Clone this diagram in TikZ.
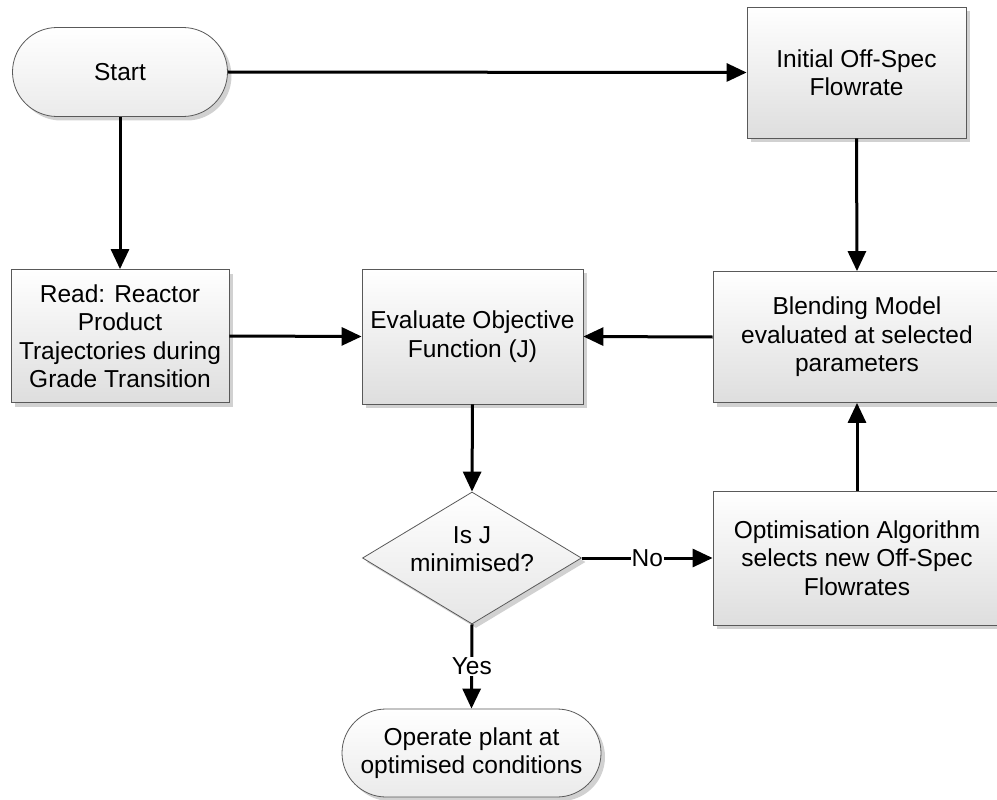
\documentclass[tikz,border=0pt]{standalone}
\usepackage{fontspec}
\setmainfont{Liberation Sans}
\usetikzlibrary{shapes.misc,shapes.geometric,arrows.meta,shadows}
\begin{document}
\begin{tikzpicture}[x=1pt,y=-1pt,
  font=\fontsize{24.5}{28.5}\selectfont,
  base/.style={draw=black!65, line width=0.8pt, top color=white, bottom color=black!13,
    align=center, inner sep=2pt,
    drop shadow={shadow xshift=4pt, shadow yshift=-4pt, fill=black!18, opacity=1}},
  procbox/.style={base, rectangle},
  term/.style={base, rounded rectangle, bottom color=black!8},
  decision/.style={base, diamond, inner sep=0pt, bottom color=black!10},
  conn/.style={line width=3pt, -{Triangle[length=20pt,width=18pt]}},
  lab/.style={fill=white, inner sep=1pt},
]
\useasboundingbox (0,0) rectangle (997,800);

\node[term, minimum width=219pt, minimum height=89pt] (start) at (120,72) {Start};
\node[procbox, minimum width=219pt, minimum height=131pt] (init) at (856.5,72.5) {Initial Off-Spec\\Flowrate};
\node[procbox, minimum width=218pt, minimum height=133pt] (read) at (120,336) {Read: Reactor\\Product\\Trajectories during\\Grade Transition};
\node[procbox, minimum width=221pt, minimum height=135pt] (eval) at (472.5,336.5) {Evaluate Objective\\Function (J)};
\node[procbox, minimum width=288pt, minimum height=131pt] (blend) at (857,337) {Blending Model\\evaluated at selected\\parameters};
\node[decision, minimum width=219pt, minimum height=132pt] (dec) at (472,558)
  {\smash{\makebox[0pt]{\begin{tabular}{@{}c@{}}Is J\\minimised?\end{tabular}}}};
\node[procbox, minimum width=288pt, minimum height=134pt] (opt) at (857,558) {Optimisation Algorithm\\selects new Off-Spec\\Flowrates};
\node[term, minimum width=263pt, minimum height=88pt] (oper) at (471.5,753) {Operate plant at\\optimised conditions};

\draw[conn] (start.east) -- (init.west);
\draw[conn] (start.south) -- (read.north);
\draw[conn] (init.south) -- (blend.north);
\draw[conn] (read.east) -- (eval.west);
\draw[conn] (blend.west) -- (eval.east);
\draw[conn] (eval.south) -- (dec.north);
\draw[conn] (dec.east) -- node[lab] (no) {No} (opt.west);
\draw[conn] (opt.north) -- (blend.south);
\draw[conn] (dec.south) -- node[lab] (yes) {Yes} (oper.north);
\end{tikzpicture}
\end{document}
